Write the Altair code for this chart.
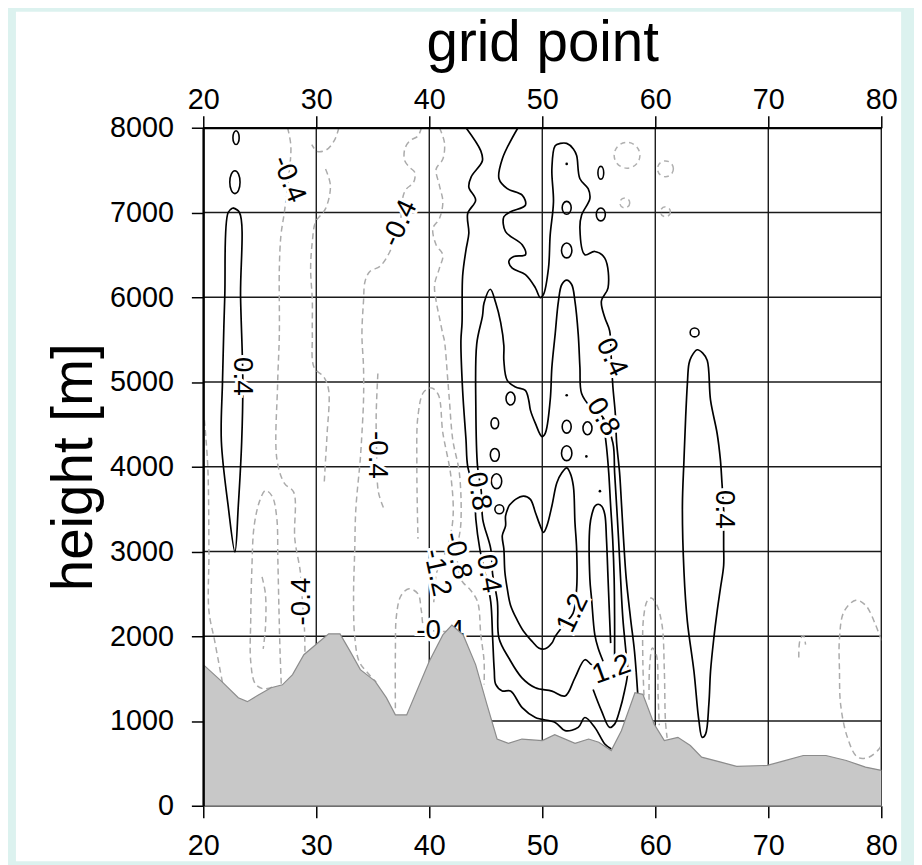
import altair as alt
import pandas as pd

# ---------------- data ----------------
x_ticks = [20, 30, 40, 50, 60, 70, 80]
y_ticks = [0, 1000, 2000, 3000, 4000, 5000, 6000, 7000, 8000]

terrain_x = [20.0, 21.6, 23.1, 23.9, 24.8, 26.0, 27.0, 27.9, 28.9, 30.1, 31.1, 32.1, 33.0, 33.9,
             35.2, 36.2, 37.0, 38.0, 40.0, 41.2, 42.0, 43.0, 44.1, 45.1, 46.0, 47.0, 48.2, 50.0,
             51.1, 52.9, 54.1, 55.0, 56.1, 57.0, 58.2, 58.9, 59.9, 60.8, 62.0, 63.1, 64.1, 65.8,
             67.2, 69.9, 71.3, 73.1, 75.1, 76.9, 78.6, 80.0]
terrain_h = [1665, 1470, 1275, 1228, 1300, 1392, 1427, 1548, 1782, 1918, 2028, 2028, 1821, 1606,
             1470, 1275, 1072, 1072, 1704, 2015, 2132, 2015, 1665, 1197, 787, 737, 787, 768,
             839, 737, 787, 749, 651, 885, 1333, 1314, 963, 768, 807, 710, 573, 515,
             464, 476, 526, 593, 593, 534, 456, 418]

# solid (positive) contours
pos_left_loop = [(22.6, 7054), (23.2, 7000), (23.3, 6000), (23.5, 5000), (23.4, 4300), (23.1, 3540),
                 (22.8, 2995), (22.2, 3540), (21.6, 4300), (21.7, 5000), (21.9, 6000), (22.2, 7000),
                 (22.6, 7054)]
pos_s1 = [(43.25, 8000), (44.56, 7727), (44.7, 7610), (43.7, 7418), (43.5, 7300), (44.1, 7145),
          (43.4, 6988), (43.5, 6755), (43.25, 6560), (42.95, 6248), (42.9, 5700), (42.8, 5487),
          (42.95, 4902), (43.25, 4317), (43.4, 4005), (44.0, 3710), (44.12, 3380), (44.47, 3030),
          (44.95, 2738), (45.44, 2406), (45.6, 2000), (45.75, 1600), (45.88, 1431), (46.46, 1354),
          (47.19, 1354), (48.22, 1158), (49.39, 1041), (51.14, 983), (52.02, 886), (53.18, 924),
          (53.77, 1041), (54.65, 924), (55.53, 729), (56.11, 670)]
pos_s2 = [(54.9, 1640), (54.36, 1665), (53.77, 1723), (52.89, 1509), (52.02, 1295), (50.85, 1353),
          (49.39, 1392), (48.2, 1509), (47.04, 1743), (46.17, 1977), (46.03, 2406), (45.6, 2738),
          (45.44, 3030), (44.73, 3380), (44.6, 3710), (44.27, 4005), (44.12, 4707), (44.2, 5450),
          (44.71, 5780), (44.85, 5935), (45.4, 6094), (45.88, 5935), (46.32, 5700), (46.6, 5429),
          (46.6, 5253), (46.9, 5019), (47.63, 4941), (48.5, 4902), (48.8, 4785), (48.95, 4668),
          (49.39, 4512), (49.97, 4356), (50.26, 4395), (50.7, 4785), (50.85, 5175), (51.14, 5565),
          (51.43, 5955), (51.73, 6150), (52.16, 6201), (52.6, 6150), (52.89, 5955), (53.18, 5565),
          (53.33, 5175), (53.48, 4864), (54.3, 4700), (55.35, 4586), (56.25, 4279), (56.4, 3931),
          (56.58, 3537), (56.75, 3147), (56.93, 2679), (57.13, 2211), (57.43, 1782), (57.57, 1588),
          (57.28, 1354), (56.84, 1120), (56.4, 963), (55.96, 924), (55.24, 1120), (54.5, 1372)]
pos_t = [(47.85, 8000), (46.46, 7632), (46.17, 7398), (46.9, 7281), (48.22, 7204), (48.51, 7087),
         (47.19, 7008), (46.6, 6950), (46.75, 6774), (48.22, 6618), (48.51, 6501), (47.48, 6481),
         (47.04, 6423), (47.34, 6344), (48.51, 6267), (49.39, 6111), (49.82, 5994), (50.11, 6033),
         (50.55, 6345), (50.7, 6735), (50.99, 7125), (50.85, 7515), (51.14, 7788), (51.6, 7815),
         (52.16, 7815), (52.75, 7750), (53.04, 7672), (53.33, 7398), (54.06, 7281), (54.21, 7164),
         (53.48, 6969), (53.33, 6813), (53.77, 6501), (54.65, 6540), (55.53, 6462), (55.82, 6111),
         (55.23, 5955), (55.53, 5760), (55.96, 5604), (56.1, 5290), (56.25, 4941), (56.46, 4630),
         (56.58, 4282), (56.84, 3931), (57.02, 3537), (57.19, 3147), (57.43, 2679), (57.81, 2211),
         (58.16, 1822), (58.45, 1314)]
pos_ta = [(55.35, 4586), (55.68, 4239), (55.88, 3931), (56.05, 3537), (56.23, 3147), (56.36, 2679),
          (56.4, 2211), (56.4, 1743)]
pos_inner = [(55.38, 1705), (54.94, 1861), (54.65, 2016), (54.36, 2445), (54.21, 2679), (54.21, 3299),
             (54.39, 3440), (54.65, 3533), (54.94, 3557), (55.26, 3533), (55.53, 3440), (55.68, 3147),
             (55.82, 2679), (55.96, 2211), (56.05, 1919)]
pos_gamma = [(47.04, 3537), (46.75, 3420), (46.75, 3303), (46.46, 3186), (46.6, 3030), (46.69, 2758),
             (46.9, 2562), (47.19, 2367), (47.78, 2191), (48.36, 2056), (49.1, 1939), (49.68, 1861),
             (50.26, 1852), (50.85, 1919), (51.14, 1997), (52.0, 2150), (52.72, 2270), (53.04, 2562),
             (53.04, 3030), (52.89, 3346), (52.75, 3771), (52.46, 3928), (52.16, 3986), (51.73, 3928),
             (51.29, 3811), (50.85, 3537), (50.41, 3303), (50.11, 3226), (49.82, 3303), (49.39, 3460),
             (48.95, 3615), (48.36, 3654), (47.63, 3615), (47.04, 3537)]
pos_right_loop = [(66.05, 3498), (65.9, 3811), (65.76, 4083), (65.47, 4395), (64.89, 4785), (64.6, 5253),
                  (64.2, 5340), (63.71, 5380), (63.2, 5300), (62.98, 5215), (62.84, 4981), (62.69, 4591),
                  (62.54, 4083), (62.4, 3537), (62.54, 2758), (62.84, 2173), (63.42, 1588), (63.86, 1003),
                  (64.15, 807), (64.45, 846), (64.74, 1197), (64.89, 1588), (65.18, 1977), (65.47, 2290),
                  (65.76, 2562), (66.05, 2835), (66.05, 3069), (66.05, 3498)]

# dashed (negative) contours
neg_a = [(27.46, 8000), (27.75, 7786), (27.54, 7394), (27.17, 6999), (26.87, 6726), (26.73, 6336),
         (26.73, 5556), (26.58, 4981), (26.52, 4083), (27.2, 3800), (28.0, 3700), (28.1, 3150),
         (28.6, 2750), (28.77, 2410), (28.95, 2100), (29.0, 1790)]
neg_b_top = [(32.0, 8000), (31.6, 7850), (30.9, 7740), (30.1, 7720), (29.6, 7800)]
neg_b = [(30.82, 7513), (31.25, 7318), (30.82, 7045), (29.94, 6889), (29.65, 6655), (29.5, 6343),
         (29.65, 5953), (29.65, 5563), (29.8, 5173), (30.68, 5056), (31.1, 4900), (30.96, 4393),
         (30.82, 4083), (30.7, 3800)]
neg_c = [(39.3, 8000), (39.0, 7903), (38.27, 7844), (37.83, 7747), (37.83, 7610), (38.27, 7532),
         (38.71, 7474), (38.62, 7357), (37.98, 7279), (37.7, 7201), (37.4, 6870), (36.52, 6540),
         (35.64, 6365), (34.76, 6306), (34.32, 6189), (34.18, 5955), (34.04, 5563), (34.18, 5173),
         (34.18, 4783), (34.04, 4393), (33.89, 4083), (33.5, 3500), (33.4, 3000), (33.3, 2500),
         (33.4, 2000), (33.8, 1700), (34.6, 1560), (35.3, 1460)]
neg_e = [(35.45, 5100), (35.3, 4600), (35.35, 4140), (35.5, 3700), (36.0, 3500)]
neg_d = [(40.9, 8000), (41.34, 7825), (41.2, 7630), (40.61, 7513), (40.9, 7318), (41.2, 7124),
         (40.9, 6929), (40.32, 6812), (40.61, 6617), (41.2, 6500), (40.9, 6343), (40.47, 6148),
         (40.61, 5953), (40.9, 5759), (41.2, 5563), (41.34, 5487), (41.64, 5019), (41.78, 4785),
         (42.08, 4317), (42.66, 3928), (42.8, 3343), (42.45, 2950), (42.9, 2650), (43.54, 2562),
         (44.27, 2407), (44.56, 2016), (44.85, 1705), (44.85, 1431)]
neg_d3 = [(40.4, 2400), (40.65, 2750), (41.6, 3050), (42.1, 3400), (41.9, 3900), (41.2, 4400),
          (40.8, 4850), (40.2, 4930), (39.5, 4880), (39.0, 4600), (38.9, 4000), (39.0, 3150)]
neg_edge = [(20.1, 4550), (20.4, 4000), (20.5, 3000), (20.5, 2300), (21.0, 1950), (21.7, 1450)]
neg_loop_a = [(26.9, 1440), (26.8, 1800), (26.7, 2300), (26.6, 2900), (26.5, 3400), (26.1, 3650),
              (25.5, 3720), (25.0, 3600), (24.5, 3300), (24.3, 2800), (24.2, 2200), (24.2, 1700),
              (24.6, 1440), (25.3, 1380), (26.1, 1400)]
neg_loop_a_in = [(25.2, 2700), (25.5, 2500), (25.5, 2100), (25.3, 1850)]
neg_loop_b = [(37.0, 1150), (37.0, 1800), (37.1, 2250), (37.5, 2480), (38.2, 2560), (39.0, 2500),
              (39.3, 2300), (39.6, 2100), (40.97, 2059), (42.0, 2059)]
neg_r1 = [(59.0, 1300), (58.9, 1700), (58.95, 2200), (59.3, 2420), (59.65, 2450), (60.1, 2380),
          (60.6, 2130), (60.8, 1600), (60.9, 1000), (61.05, 800)]
neg_r2 = [(59.45, 1250), (59.5, 1650), (59.75, 1860), (60.1, 1780), (60.25, 1300), (60.35, 950)]
neg_r3 = [(80.0, 1950), (79.5, 2133), (78.6, 2367), (77.75, 2425), (76.7, 2290), (76.3, 1977),
          (76.3, 1587), (76.4, 1197), (77.0, 807), (77.9, 573), (78.9, 573), (79.8, 670), (80.0, 720)]
neg_hook = [(72.7, 1750), (72.8, 1950), (73.1, 2010), (73.3, 1900)]

# small closed contours
oval_x = [22.9, 22.8, 47.19, 45.8, 45.8, 45.95, 46.2, 52.16, 55.18, 52.16, 55.18, 52.16, 54.0, 52.16, 63.48]
oval_y = [7883, 7357, 4805, 4512, 4140, 3829, 3498, 7055, 7468, 6552, 6977, 4473, 4454, 4160, 5585]
oval_kind = ["tall_s", "tall_l", "oval", "oval_s", "oval", "oval_l", "round", "oval", "tall_m",
             "oval_l", "oval", "oval", "oval", "oval_l", "round"]
dot_x = [52.16, 52.16, 53.9, 55.1]
dot_y = [7573, 4844, 4122, 3712]
ring_x = [57.5, 60.9, 57.3, 60.9]
ring_y = [7675, 7515, 7113, 7008]
ring_kind = ["big", "med", "small", "small"]

# contour labels
lab_text = ["0.4", "-0.4", "-0.4", "-0.4", "-0.4", "-0.4", "-0.8", "-1.2", "0.8", "0.4",
            "0.4", "0.8", "1.2", "1.2", "0.4"]
lab_x = [23.45, 27.54, 37.4, 35.35, 28.77, 40.97, 42.45, 40.65, 44.35, 45.2,
         56.1, 55.35, 52.72, 56.14, 66.05]
lab_y = [5066, 7394, 6870, 4140, 2410, 2059, 2950, 2750, 3710, 2738,
         5290, 4586, 2270, 1603, 3498]
lab_angle = [90, 68, 295, 90, 270, 0, 77, 78, 80, 80, 65, 60, 296, 340, 90]

# ---------------- build tables ----------------
def lines_df(named):
    rows = []
    for name, pts in named.items():
        for i, (x, y) in enumerate(pts):
            rows.append({"id": name, "i": i, "x": x, "y": y})
    return pd.DataFrame(rows)

solid_df = lines_df({"l": pos_left_loop, "s1": pos_s1, "s2": pos_s2, "t": pos_t, "ta": pos_ta,
                     "in": pos_inner, "g": pos_gamma, "r": pos_right_loop})
dash_df = lines_df({"a": neg_a, "bt": neg_b_top, "b": neg_b, "c": neg_c, "e": neg_e, "d": neg_d,
                    "d3": neg_d3, "edge": neg_edge, "la": neg_loop_a, "lai": neg_loop_a_in,
                    "lb": neg_loop_b, "r1": neg_r1, "r2": neg_r2, "r3": neg_r3, "hook": neg_hook})
terrain_df = pd.DataFrame({"x": terrain_x, "y": terrain_h})

# symbol styles (pixel sizes / shapes of the small loops)
TALL = "M0,-1A0.45,1,0,1,1,0,1A0.45,1,0,1,1,0,-1Z"
OVAL = "M0,-1A0.7,1,0,1,1,0,1A0.7,1,0,1,1,0,-1Z"
oval_style = {"tall_s": (TALL, 196), "tall_l": (TALL, 529), "tall_m": (TALL, 169),
              "oval_s": (OVAL, 121), "oval": (OVAL, 169), "oval_l": (OVAL, 225), "round": ("circle", 81)}
ring_size = {"big": 676, "med": 256, "small": 100}

oval_df = pd.DataFrame({"x": oval_x, "y": oval_y, "kind": oval_kind})
oval_df["shape"] = [oval_style[k][0] for k in oval_kind]
oval_df["sz"] = [oval_style[k][1] for k in oval_kind]
dot_df = pd.DataFrame({"x": dot_x, "y": dot_y})
ring_df = pd.DataFrame({"x": ring_x, "y": ring_y, "kind": ring_kind})
ring_df["sz"] = [ring_size[k] for k in ring_kind]
lab_df = pd.DataFrame({"t": lab_text, "x": lab_x, "y": lab_y, "a": lab_angle})

# ---------------- chart ----------------
FONT = "Liberation Sans"
W = H = 684
xs = alt.Scale(domain=[20, 80], nice=False, zero=False)
ys = alt.Scale(domain=[0, 8000], nice=False)

common_axis = dict(labelFont=FONT, titleFont=FONT, labelFontSize=29, labelColor="black",
                   titleColor="black", titleFontWeight="normal", tickColor="black", tickWidth=1.5,
                   tickSize=12, grid=False, zindex=1, labelFlush=False, format="d")

top_axis = alt.Axis(orient="top", values=x_ticks, title="grid point", titleFontSize=57,
                    labelPadding=1, titlePadding=14, domainWidth=2.2, domainColor="black",
                    **common_axis)
bottom_axis = alt.Axis(orient="bottom", values=x_ticks, title=None, labelPadding=14,
                       domainWidth=1.2, domainColor="#666666", **common_axis)
left_axis = alt.Axis(orient="left", values=y_ticks, title="height [m]", titleFontSize=57,
                     labelPadding=18, titlePadding=6, domainWidth=2.2, domainColor="black",
                     **common_axis)

X = lambda: alt.X("x:Q", scale=xs, axis=None)
Y = lambda: alt.Y("y:Q", scale=ys, axis=None)

panel = alt.Chart(pd.DataFrame({"a": [0]})).mark_rect(color="white").encode(
    x=alt.value(-189), x2=alt.value(704), y=alt.value(-117), y2=alt.value(740))

grid_v = alt.Chart(pd.DataFrame({"x": x_ticks})).mark_rule(color="#1a1a1a", strokeWidth=1.4).encode(
    x=alt.X("x:Q", scale=xs, axis=top_axis))
grid_h = alt.Chart(pd.DataFrame({"y": y_ticks})).mark_rule(color="#1a1a1a", strokeWidth=1.4).encode(
    y=alt.Y("y:Q", scale=ys, axis=left_axis))

dashed = alt.Chart(dash_df).mark_line(color="#ababab", strokeWidth=1.5, strokeDash=[6, 4],
                                      interpolate="catmull-rom", clip=True).encode(
    x=X(), y=Y(), detail="id:N", order="i:Q")
solid = alt.Chart(solid_df).mark_line(color="black", strokeWidth=1.7,
                                      interpolate="catmull-rom", clip=True).encode(
    x=X(), y=Y(), detail="id:N", order="i:Q")

ovals = alt.Chart(oval_df).mark_point(filled=False, color="black", strokeWidth=1.6, opacity=1).encode(
    x=X(), y=Y(),
    shape=alt.Shape("shape:N", scale=None),
    size=alt.Size("sz:Q", scale=None))
dots = alt.Chart(dot_df).mark_circle(color="black", size=7, opacity=1).encode(x=X(), y=Y())
rings = alt.Chart(ring_df).mark_point(filled=False, color="#b0b0b0", strokeWidth=1.5,
                                      strokeDash=[5, 4], shape="circle", opacity=1).encode(
    x=X(), y=Y(), size=alt.Size("sz:Q", scale=None))

halo = alt.Chart(lab_df).mark_text(font=FONT, fontSize=28, color="white", stroke="white",
                                   strokeWidth=6, align="center", baseline="middle").encode(
    x=X(), y=Y(), text="t:N", angle=alt.Angle("a:Q", scale=None))
labels = alt.Chart(lab_df).mark_text(font=FONT, fontSize=28, color="black",
                                     align="center", baseline="middle").encode(
    x=X(), y=Y(), text="t:N", angle=alt.Angle("a:Q", scale=None))

terrain = alt.Chart(terrain_df).mark_area(color="#c8c8c8", opacity=1).encode(
    x=alt.X("x:Q", scale=xs, axis=bottom_axis), y=Y())
terrain_edge = alt.Chart(terrain_df).mark_line(color="#8c8c8c", strokeWidth=1.2).encode(x=X(), y=Y())

chart = alt.layer(panel, grid_v, grid_h, dashed, rings, solid, ovals, dots, halo, labels,
                  terrain, terrain_edge).resolve_axis(x="independent", y="independent").properties(
    width=W, height=H,
    autosize=alt.AutoSizeParams(type="none"),
    padding={"left": 197, "top": 117, "right": 33, "bottom": 56},
    background="#dcf2ef",
).configure_view(stroke=None)

chart.save("out.html", embed_options={"renderer": "svg", "actions": False})
